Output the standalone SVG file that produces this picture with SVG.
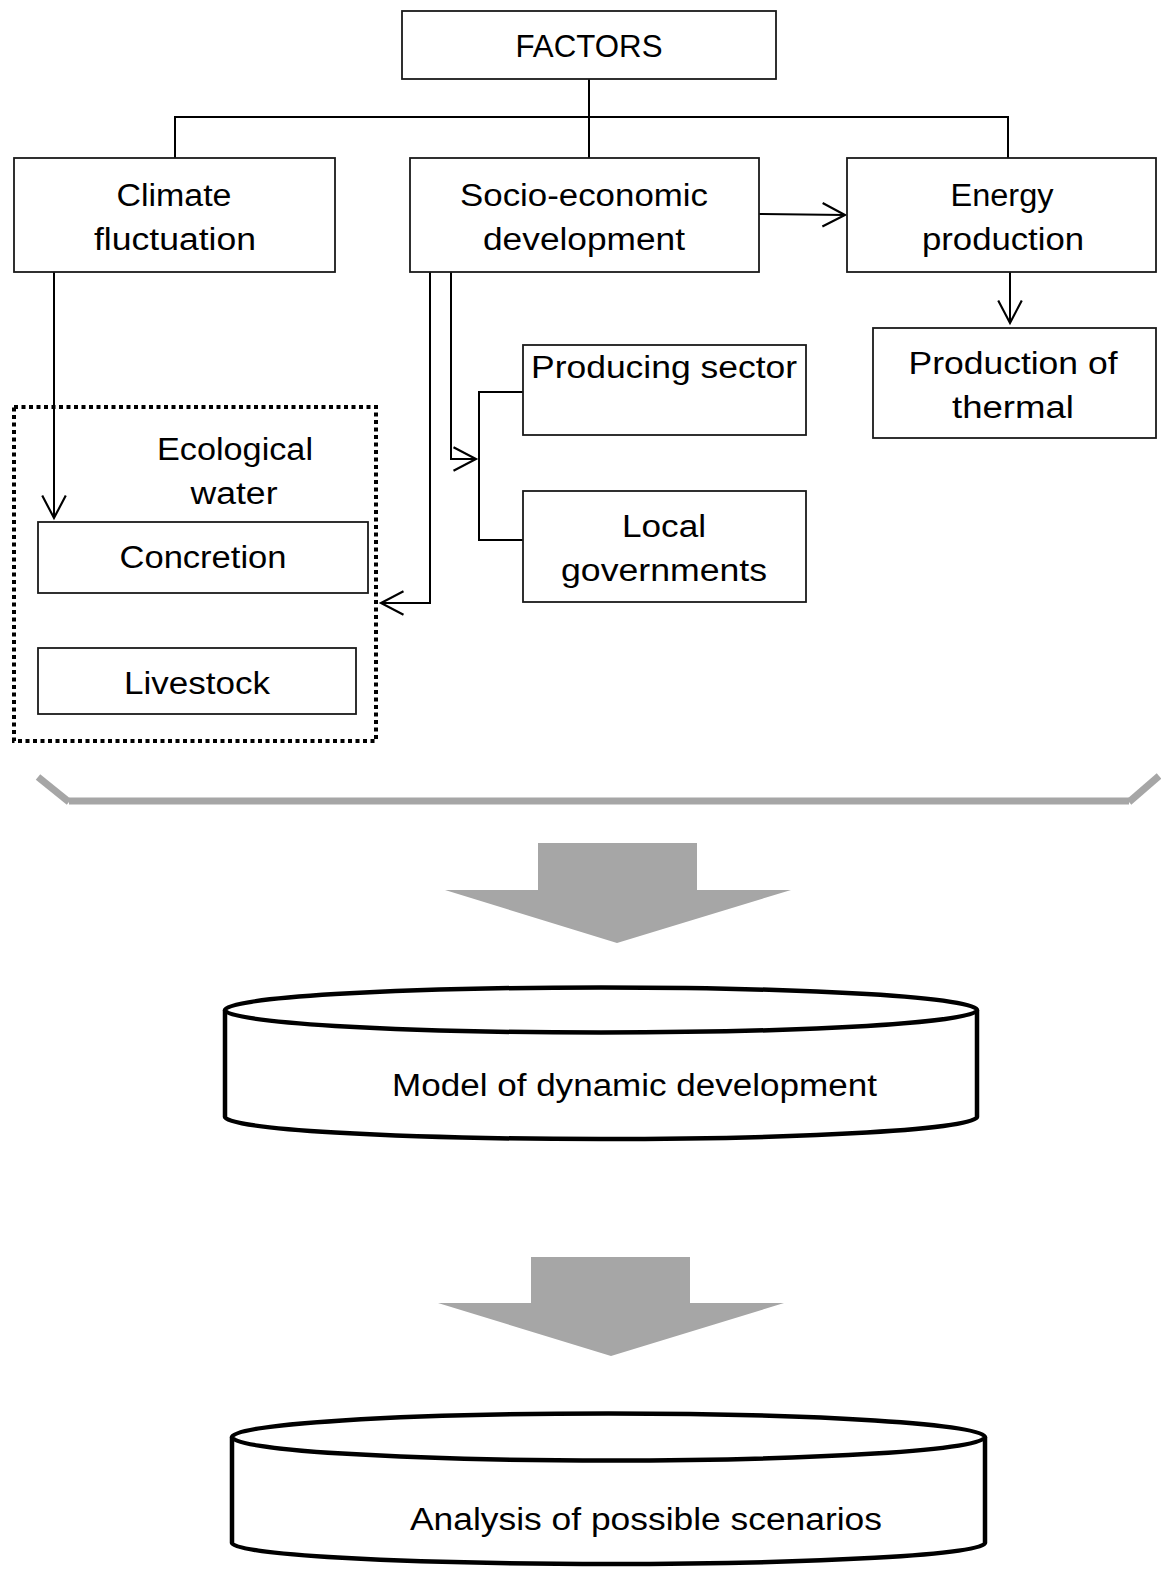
<svg xmlns="http://www.w3.org/2000/svg" width="1161" height="1573" viewBox="0 0 1161 1573">
<style>
.box{fill:#fff;stroke:#1a1a1a;stroke-width:1.8}
.lbl{font-family:"Liberation Sans","DejaVu Sans",sans-serif;font-size:31px;fill:#000;text-anchor:middle}
.con{fill:none;stroke:#000;stroke-width:2}
.gray{fill:#a6a6a6;stroke:none}
.brace{fill:none;stroke:#a6a6a6;stroke-width:7}
.cyl{fill:#fff;stroke:#000;stroke-width:4.5}
</style>
<defs>
<marker id="open" markerUnits="userSpaceOnUse" markerWidth="30" markerHeight="30" viewBox="-24 -14 28 28" refX="0" refY="0" orient="auto">
<path d="M-21,-11 L0,0 L-21,11" fill="none" stroke="#000" stroke-width="2"/>
</marker>
</defs>

<g id="connectors">
<path class="con" d="M589,79 V158"/>
<path class="con" d="M175,158 V117 H1008 V158"/>
<path class="con" d="M759,214 L845,215" marker-end="url(#open)"/>
<path class="con" d="M1010,272 V323" marker-end="url(#open)"/>
<path class="con" d="M54,272 V518" marker-end="url(#open)"/>
<path class="con" d="M451,272 V459 H476" marker-end="url(#open)"/>
<path class="con" d="M430,272 V603 H381" marker-end="url(#open)"/>
<path class="con" d="M524,392 H479 V540 H524"/>
</g>

<g id="factors">
<rect class="box" x="402" y="11" width="374" height="68"/>
<text class="lbl" x="589" y="57" font-size="32" textLength="147" lengthAdjust="spacingAndGlyphs">FACTORS</text>
</g>

<g id="climate">
<rect class="box" x="14" y="158" width="321" height="114"/>
<text class="lbl" x="174" y="206" textLength="115" lengthAdjust="spacingAndGlyphs">Climate</text>
<text class="lbl" x="175" y="250" textLength="162" lengthAdjust="spacingAndGlyphs">fluctuation</text>
</g>

<g id="socio">
<rect class="box" x="410" y="158" width="349" height="114"/>
<text class="lbl" x="584" y="206" textLength="248" lengthAdjust="spacingAndGlyphs">Socio-economic</text>
<text class="lbl" x="584" y="250" textLength="202" lengthAdjust="spacingAndGlyphs">development</text>
</g>

<g id="energy">
<rect class="box" x="847" y="158" width="309" height="114"/>
<text class="lbl" x="1002" y="206" textLength="103" lengthAdjust="spacingAndGlyphs">Energy</text>
<text class="lbl" x="1003" y="250" textLength="162" lengthAdjust="spacingAndGlyphs">production</text>
</g>

<g id="thermal">
<rect class="box" x="873" y="328" width="283" height="110"/>
<text class="lbl" x="1013" y="374" textLength="209" lengthAdjust="spacingAndGlyphs">Production of</text>
<text class="lbl" x="1013" y="418" textLength="122" lengthAdjust="spacingAndGlyphs">thermal</text>
</g>

<g id="producing">
<rect class="box" x="523" y="345" width="283" height="90"/>
<text class="lbl" x="664" y="378" textLength="266" lengthAdjust="spacingAndGlyphs">Producing sector</text>
</g>

<g id="local">
<rect class="box" x="523" y="491" width="283" height="111"/>
<text class="lbl" x="664" y="537" textLength="84" lengthAdjust="spacingAndGlyphs">Local</text>
<text class="lbl" x="664" y="581" textLength="206" lengthAdjust="spacingAndGlyphs">governments</text>
</g>

<g id="ecological">
<rect x="14" y="407" width="362" height="334" fill="none" stroke="#000" stroke-width="4" stroke-dasharray="4 3.5"/>
<text class="lbl" x="235" y="460" textLength="156" lengthAdjust="spacingAndGlyphs">Ecological</text>
<text class="lbl" x="234" y="504" textLength="87" lengthAdjust="spacingAndGlyphs">water</text>
</g>

<g id="concretion">
<rect class="box" x="38" y="522" width="330" height="71"/>
<text class="lbl" x="203" y="568" textLength="167" lengthAdjust="spacingAndGlyphs">Concretion</text>
</g>

<g id="livestock">
<rect class="box" x="38" y="648" width="318" height="66"/>
<text class="lbl" x="197" y="694" textLength="146" lengthAdjust="spacingAndGlyphs">Livestock</text>
</g>

<g id="brace">
<path class="brace" d="M38,777 L69,802"/>
<path class="brace" d="M69,801 H1129"/>
<path class="brace" d="M1129,802 L1159,776"/>
</g>

<g id="arrow1">
<path class="gray" d="M538,843 H697 V890 H791 L617,943 L445,890 H538 Z"/>
</g>

<g id="model">
<path class="cyl" d="M225,1010 V1117 A376,22 0 0 0 977,1117 V1010"/>
<ellipse class="cyl" cx="601" cy="1010" rx="376" ry="22.5"/>
<text class="lbl" x="634.5" y="1096" font-size="30" textLength="485" lengthAdjust="spacingAndGlyphs">Model of dynamic development</text>
</g>

<g id="arrow2">
<path class="gray" d="M531,1257 H690 V1303 H784 L611,1356 L438,1303 H531 Z"/>
</g>

<g id="analysis">
<path class="cyl" d="M232,1437 V1543 A376.5,21 0 0 0 985,1543 V1437"/>
<ellipse class="cyl" cx="608.5" cy="1437" rx="376.5" ry="23.5"/>
<text class="lbl" x="646" y="1530" font-size="30" textLength="472" lengthAdjust="spacingAndGlyphs">Analysis of possible scenarios</text>
</g>
</svg>
